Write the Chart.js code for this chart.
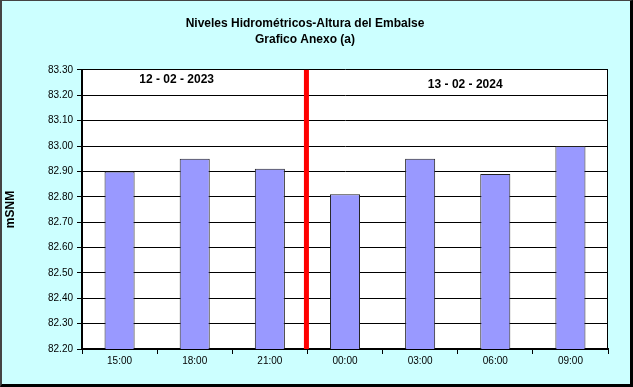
<!DOCTYPE html>
<html>
<head>
<meta charset="utf-8">
<script src="https://cdn.jsdelivr.net/npm/chart.js@4/dist/chart.umd.min.js"></script>
<style>
  html, body { margin: 0; padding: 0; background: #fff; }
  #marco {
    width: 633px; height: 387px; box-sizing: border-box;
    background: #ccffff;
    border-top: 1px solid #444; border-left: 2px solid #444;
    border-right: 3px solid #000; border-bottom: 3px solid #000;
  }
  #grafico { display: block; }
</style>
</head>
<body>
<div id="marco"><canvas id="grafico" width="628" height="383"></canvas></div>
<script>
const horas = ["15:00", "18:00", "21:00", "00:00", "03:00", "06:00", "09:00"];
const niveles = [82.90, 82.95, 82.91, 82.81, 82.95, 82.89, 83.00];
const titulo = ["Niveles Hidrométricos-Altura del Embalse", "Grafico Anexo (a)"];
// fechas que van arriba de cada tramo: [texto, posicion en categorias, altura]
const fechas = [["12 - 02 - 2023", 0.76, 83.26], ["13 - 02 - 2024", 4.6, 83.24]];
const corteDia = 2.5; // entre 21:00 y 00:00

const fuente = "'Liberation Sans', Arial, sans-serif";

const fondoArea = {
  id: "fondoArea",
  beforeDraw(chart) {
    const { ctx, chartArea: a } = chart;
    ctx.save();
    ctx.fillStyle = "#ffffff";
    ctx.fillRect(a.left, a.top, a.right - a.left, a.bottom - a.top);
    ctx.restore();
  }
};

const extras = {
  id: "extras",
  afterDatasetsDraw(chart) {
    const { ctx, chartArea: a, scales } = chart;
    ctx.save();
    // linea roja del cambio de dia
    const xc = scales.x.getPixelForValue(corteDia) - 1;
    ctx.fillStyle = "#ff0000";
    ctx.fillRect(xc - 2.5, a.top, 5, a.bottom - a.top);
    // marco derecho del area
    ctx.strokeStyle = "#000";
    ctx.lineWidth = 1;
    ctx.beginPath();
    ctx.moveTo(a.right - 0.5, a.top);
    ctx.lineTo(a.right - 0.5, a.bottom);
    ctx.stroke();
    // fechas
    ctx.fillStyle = "#000";
    ctx.font = "bold 12px " + fuente;
    ctx.textAlign = "center";
    ctx.textBaseline = "middle";
    fechas.forEach(f => {
      ctx.fillText(f[0], scales.x.getPixelForValue(f[1]), scales.y.getPixelForValue(f[2]));
    });
    ctx.restore();
  }
};

new Chart(document.getElementById("grafico"), {
  type: "bar",
  data: {
    labels: horas,
    datasets: [{
      data: niveles,
      backgroundColor: "#9999ff",
      borderColor: "#222222",
      borderWidth: 1,
      barPercentage: 0.4,
      categoryPercentage: 1
    }]
  },
  options: {
    responsive: false,
    animation: false,
    layout: { padding: { top: 0, left: 0, right: 22, bottom: 16 } },
    plugins: {
      legend: { display: false },
      tooltip: { enabled: false },
      title: {
        display: true,
        text: titulo,
        color: "#000",
        font: { family: fuente, size: 12, weight: "bold", lineHeight: 1.33 },
        padding: { top: 15, bottom: 22 }
      }
    },
    scales: {
      x: {
        grid: { offset: true, drawOnChartArea: false, color: "#000", tickLength: 5 },
        border: { color: "#000", width: 2 },
        ticks: { color: "#000", font: { family: fuente, size: 10 }, padding: 1, maxRotation: 0 }
      },
      y: {
        min: 82.2,
        max: 83.3,
        afterFit(scale) { scale.width = 80; },
        grid: { color: "#000", tickLength: 5 },
        border: { color: "#000", width: 2 },
        ticks: {
          stepSize: 0.1,
          color: "#000",
          padding: 4,
          font: { family: fuente, size: 10 },
          callback: v => v.toFixed(2)
        },
        title: {
          display: true,
          text: "mSNM",
          color: "#000",
          font: { family: fuente, size: 12, weight: "bold" },
          padding: { top: 1, bottom: 0 }
        }
      }
    }
  },
  plugins: [fondoArea, extras]
});
</script>
</body>
</html>
